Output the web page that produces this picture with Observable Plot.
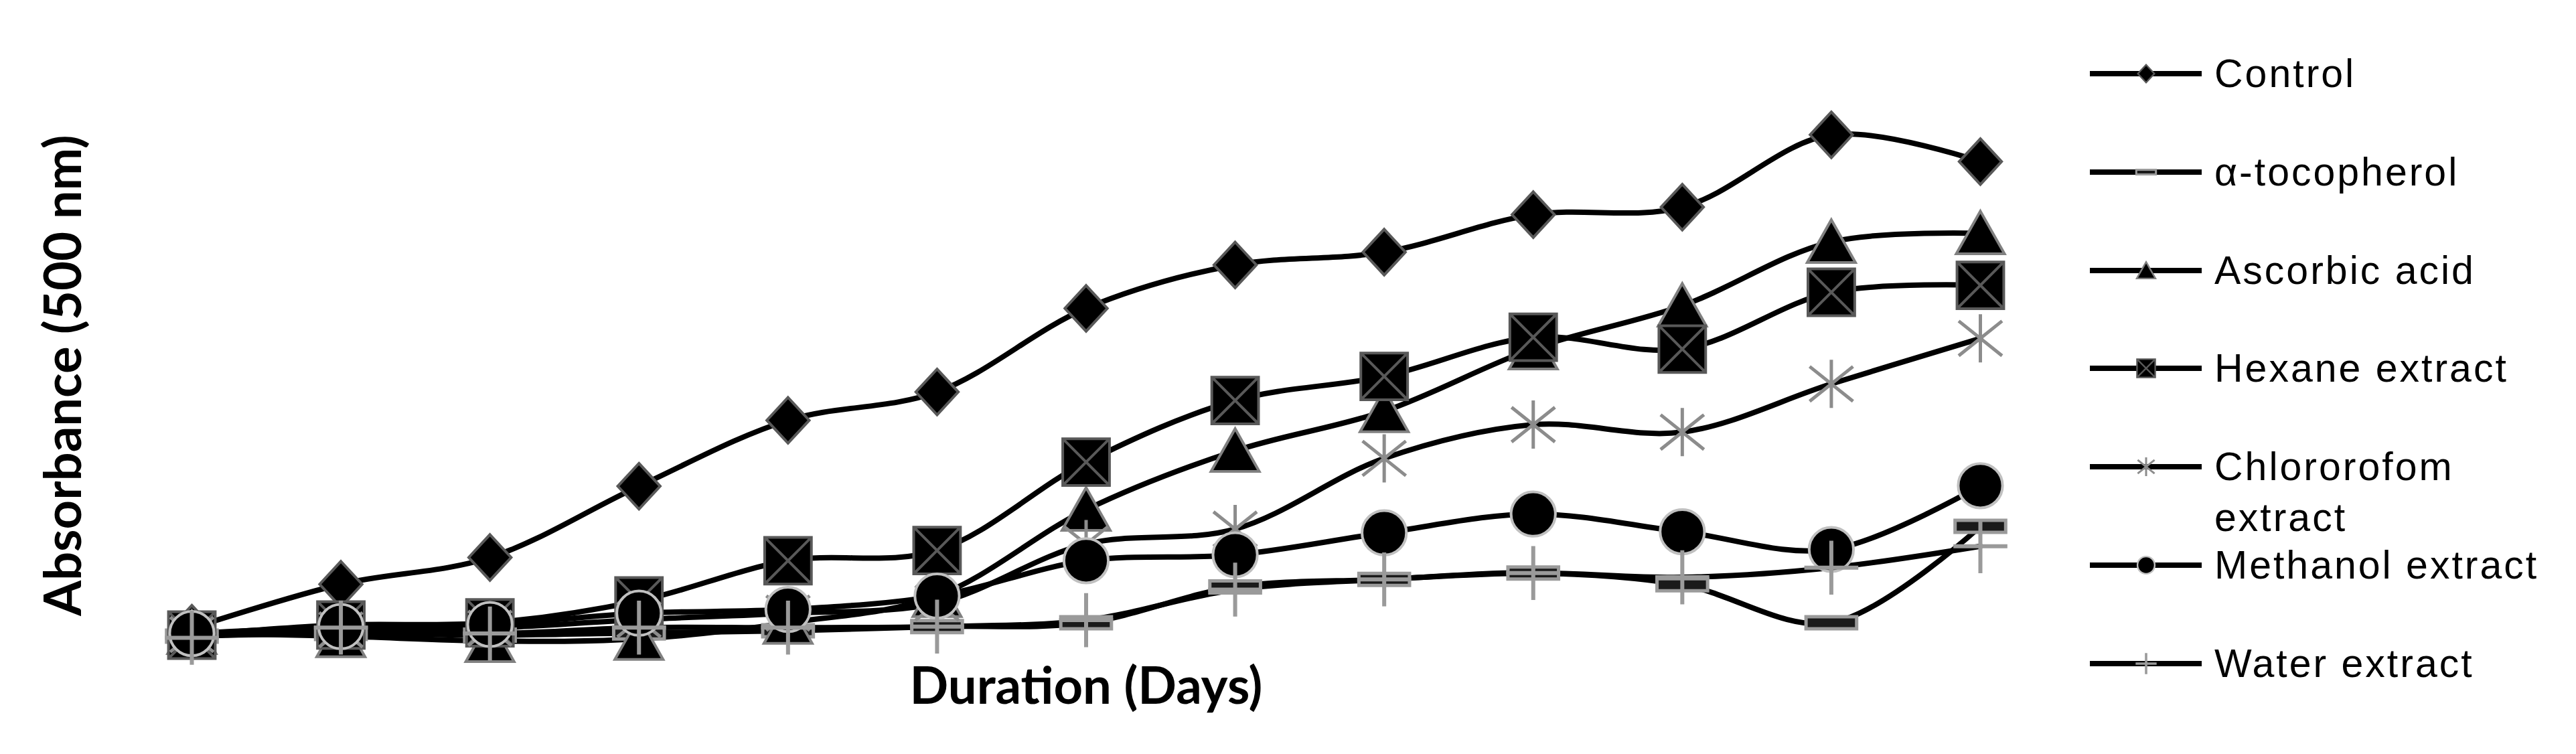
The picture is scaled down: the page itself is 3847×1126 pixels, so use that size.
<!DOCTYPE html>
<html>
<head>
<meta charset="utf-8">
<script src="https://cdn.jsdelivr.net/npm/d3@7"></script>
<script src="https://cdn.jsdelivr.net/npm/@observablehq/plot@0.6"></script>
<style>
html, body { margin: 0; padding: 0; background: #fff; }
#wrap { position: relative; width: 3847px; height: 1126px; overflow: hidden; background: #fff; }
#chart { position: absolute; left: 0; top: 0; }
#legend { position: absolute; left: 3121px; top: 72px; width: 726px;
  font-family: "Liberation Sans", Arial, sans-serif; font-size: 59px; letter-spacing: 3px; color: #000; }
.item { display: flex; align-items: flex-start; height: 146.8px; }
.item svg { flex: none; margin-right: 19px; overflow: visible; }
.item span { line-height: 76px; max-width: 530px; }
</style>
</head>
<body>
<div id="wrap"><div id="chart"></div><div id="legend"></div></div>
<script>
// ---- data (absorbance, arbitrary units) ----
const days = [0, 1, 2, 3, 4, 5, 6, 7, 8, 9, 10, 11, 12];
const seriesNames = ["Control", "α-tocopherol", "Ascorbic acid", "Hexane extract", "Chlororofom extract", "Methanol extract", "Water extract"];
const control          = [0.028, 0.110, 0.160, 0.293, 0.416, 0.469, 0.625, 0.706, 0.730, 0.800, 0.814, 0.949, 0.899];
const alphaTocopherol  = [0.013, 0.018, 0.015, 0.019, 0.023, 0.031, 0.038, 0.105, 0.119, 0.131, 0.109, 0.038, 0.218];
const ascorbicAcid     = [0.019, 0.013, 0.004, 0.008, 0.038, 0.088, 0.249, 0.359, 0.433, 0.550, 0.630, 0.749, 0.765];
const hexaneExtract    = [0.015, 0.034, 0.038, 0.079, 0.154, 0.173, 0.338, 0.453, 0.498, 0.571, 0.549, 0.655, 0.668];
const chloroformExtract= [0.016, 0.025, 0.028, 0.044, 0.056, 0.075, 0.185, 0.213, 0.345, 0.408, 0.394, 0.484, 0.569];
const methanolExtract  = [0.018, 0.031, 0.035, 0.056, 0.063, 0.088, 0.154, 0.165, 0.206, 0.241, 0.208, 0.175, 0.294];
const waterExtract     = [0.010, 0.029, 0.018, 0.029, 0.029, 0.031, 0.043, 0.100, 0.119, 0.131, 0.123, 0.141, 0.181];
const xLabel = "Duration (Days)";
const yLabel = "Absorbance (500 nm)";

const seriesValues = [control, alphaTocopherol, ascorbicAcid, hexaneExtract, chloroformExtract, methanolExtract, waterExtract];
const rows = seriesNames.flatMap((name, i) => days.map((d, j) => ({series: name, day: d, value: seriesValues[i][j]})));

// ---- marker symbols (Excel-like) ----
function mk(fn) { return {draw(ctx, size) { fn(ctx, Math.sqrt(size / Math.PI)); }}; }
const symDiamond = mk((c, r) => { c.moveTo(0, -r * 0.95); c.lineTo(r * 0.88, 0); c.lineTo(0, r * 0.95); c.lineTo(-r * 0.88, 0); c.closePath(); });
const symDash = mk((c, r) => { c.rect(-r * 1.05, -r * 0.25, r * 2.1, r * 0.5); });
const symTriangle = mk((c, r) => { c.moveTo(0, -r * 0.92); c.lineTo(r, r * 0.85); c.lineTo(-r, r * 0.85); c.closePath(); });
const symSquareX = mk((c, r) => { const h = r * 0.97; c.rect(-h, -h, 2 * h, 2 * h); c.moveTo(-h, -h); c.lineTo(h, h); c.moveTo(h, -h); c.lineTo(-h, h); });
const symAsterisk = mk((c, r) => { const h = r * 0.9; c.moveTo(0, -r); c.lineTo(0, r); c.moveTo(-h, -h * 0.8); c.lineTo(h, h * 0.8); c.moveTo(h, -h * 0.8); c.lineTo(-h, h * 0.8); });
const symCircle = mk((c, r) => { const q = r * 0.92; c.moveTo(q, 0); c.arc(0, 0, q, 0, 2 * Math.PI); });
const symPlus = mk((c, r) => { const q = r * 1.12; c.moveTo(-q, 0); c.lineTo(q, 0); c.moveTo(0, -q); c.lineTo(0, q); });

const styles = [
  {symbol: symDiamond,  fill: "#000",    stroke: "#595959", sw: 4},
  {symbol: symDash,     fill: "#1a1a1a", stroke: "#9a9a9a", sw: 5},
  {symbol: symTriangle, fill: "#000",    stroke: "#808080", sw: 4},
  {symbol: symSquareX,  fill: "#000",    stroke: "#595959", sw: 4},
  {symbol: symAsterisk, fill: "none",    stroke: "#8c8c8c", sw: 5},
  {symbol: symCircle,   fill: "#000",    stroke: "#c0c0c0", sw: 4},
  {symbol: symPlus,     fill: "none",    stroke: "#9a9a9a", sw: 6}
];

const lineMarks = seriesNames.map(name =>
  Plot.line(rows.filter(r => r.series === name), {x: "day", y: "value", stroke: "#000", strokeWidth: 8, curve: "catmull-rom"}));
const dotMarks = seriesNames.map((name, i) =>
  Plot.dot(rows.filter(r => r.series === name), {x: "day", y: "value", r: 36, symbol: styles[i].symbol,
    fill: styles[i].fill, stroke: styles[i].stroke, strokeWidth: styles[i].sw}));

const labelFont = {fontFamily: "Lato, 'Open Sans', sans-serif", fontWeight: "bold", fontSize: 76, fill: "#000"};

const chart = Plot.plot({
  width: 3847,
  height: 1126,
  marginLeft: 286,
  marginRight: 890,
  marginTop: 160,
  marginBottom: 166,
  style: {background: "#fff"},
  x: {domain: [0, 12], axis: null},
  y: {domain: [0, 1], axis: null},
  marks: [
    ...lineMarks,
    ...dotMarks,
    Plot.text([xLabel], {text: d => d, frameAnchor: "bottom", textAnchor: "middle", lineAnchor: "top", dy: 37, ...labelFont}),
    Plot.text([yLabel], {text: d => d, frameAnchor: "left", textAnchor: "middle", rotate: -90, lineAnchor: "top", dx: -219, ...labelFont})
  ]
});
document.getElementById("chart").appendChild(chart);

// ---- legend ----
const legend = d3.select("#legend");
seriesNames.forEach((name, i) => {
  const item = legend.append("div").attr("class", "item");
  const svg = item.append("svg").attr("width", 167).attr("height", 76);
  svg.append("line").attr("x1", 0).attr("x2", 167).attr("y1", 38).attr("y2", 38)
    .attr("stroke", "#000").attr("stroke-width", 8);
  const p = d3.path();
  styles[i].symbol.draw(p, Math.PI * 14 * 14);
  svg.append("path").attr("transform", "translate(84,38)").attr("d", p.toString())
    .attr("fill", styles[i].fill).attr("stroke", styles[i].stroke).attr("stroke-width", Math.max(2, styles[i].sw * 0.6));
  item.append("span").text(name);
});
</script>
</body>
</html>
